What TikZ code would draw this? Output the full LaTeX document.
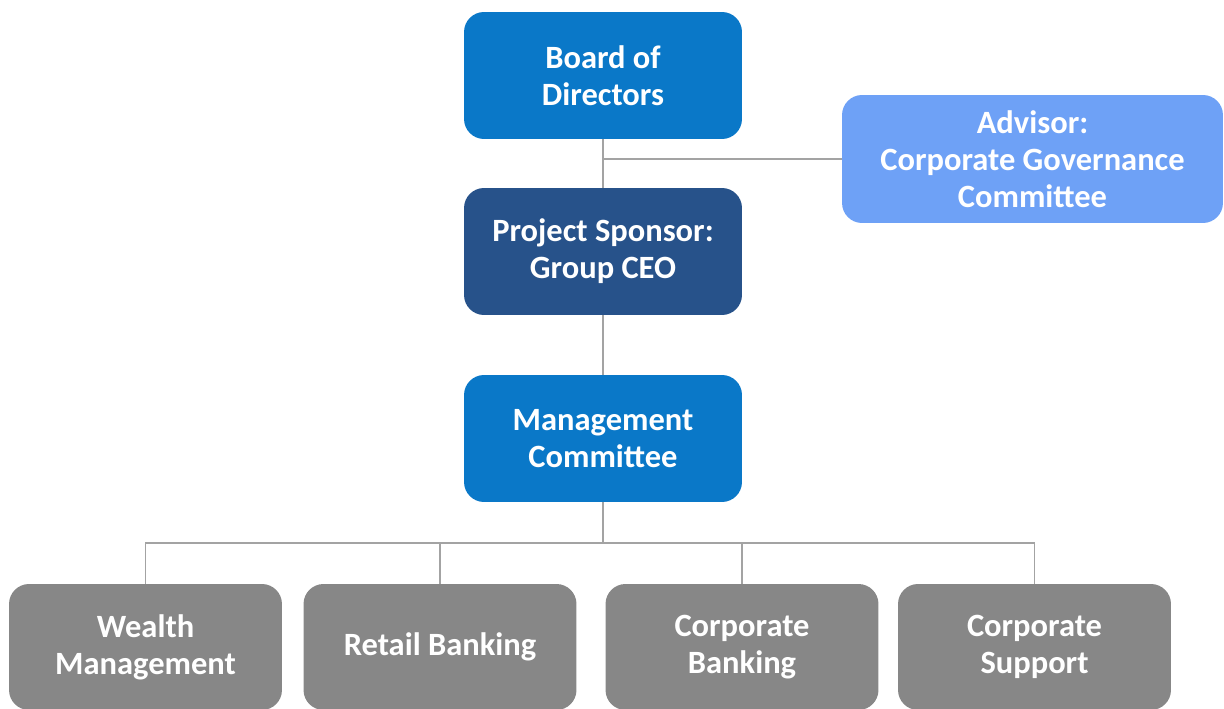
\documentclass[tikz,border=0pt]{standalone}
\usepackage{fontspec}
\setmainfont{Carlito}
\usepackage{tikz}
\usetikzlibrary{positioning}
\definecolor{boardblue}{HTML}{0A78C8}
\definecolor{sponsorblue}{HTML}{27528A}
\definecolor{advisorblue}{HTML}{6EA1F6}
\definecolor{unitgray}{HTML}{878787}
\definecolor{linegray}{HTML}{A3A3A3}

\begin{document}
\begin{tikzpicture}
	[x=0.02cm, y=-0.02cm,
	font=\fontsize{18.5}{21}\selectfont\bfseries,
	box/.style		= {rectangle, rounded corners=0.4cm, draw=none, text=white, align=center, inner sep=0pt},
	top/.style		= {box, fill=boardblue, minimum width=5.56cm, minimum height=2.54cm},
	sponsor/.style	= {top, fill=sponsorblue},
	advisor/.style	= {box, fill=advisorblue, minimum width=7.62cm, minimum height=2.56cm},
	unit/.style		= {box, fill=unitgray, minimum width=5.46cm, minimum height=2.52cm},
	link/.style		= {draw=linegray, line width=1.5pt},
	branch/.style	= {draw=linegray, line width=0.9pt}]

	\useasboundingbox (0,0) rectangle (1224,709);

	\node at (603, 75.5)	[top]		(board)	{Board of\\Directors};
	\node at (603, 251.5)	[sponsor]	(ceo)	{Project Sponsor:\\Group CEO};
	\node at (603, 438.5)	[top]		(mgmt)	{Management\\Committee};
	\node at (1032.5, 159)	[advisor]	(adv)	{Advisor:\\Corporate Governance\\Committee};

	\node at (145.5, 647)	[unit]		(wm)	{Wealth\\Management};
	\node at (440, 647)		[unit]		(rb)	{Retail Banking};
	\node at (742, 647)		[unit]		(cb)	{Corporate\\Banking};
	\node at (1034.5, 647)	[unit]		(cs)	{Corporate\\Support};

	\coordinate (bus) at (603, 543);

	\draw [link] (board.south) -- (ceo.north);
	\draw [link] (adv.west) -- (adv.west -| board.south);
	\draw [link] (ceo.south) -- (mgmt.north);

	\draw [branch] (mgmt.south) -- (bus);
	\foreach \unit in {wm, rb, cb, cs}
		\draw [branch] (bus) -| (\unit.north);
\end{tikzpicture}
\end{document}
